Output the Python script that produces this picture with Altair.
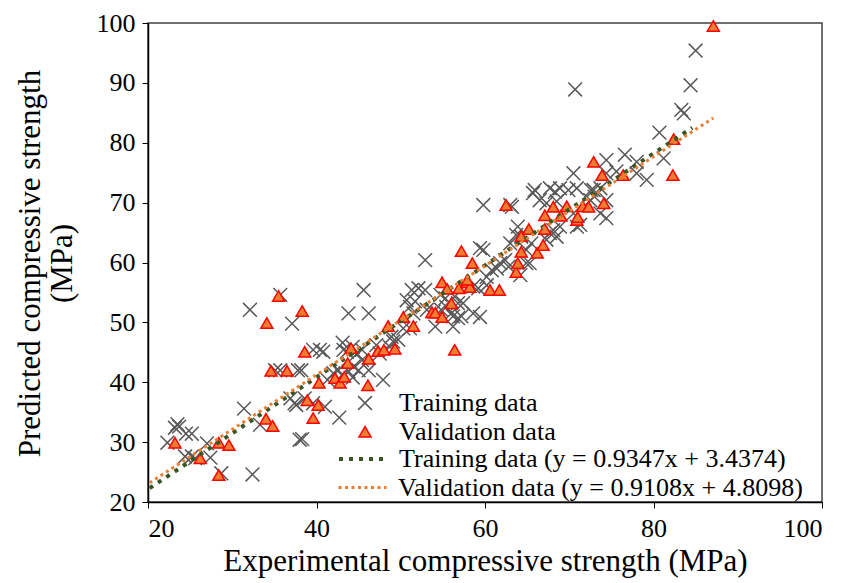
import altair as alt
import pandas as pd

# ---- data ----
train_x = [22.3, 23.2, 23.5, 23.7, 24.5, 25.2, 24.4, 25.2, 25.6, 27.0, 27.4, 28.7, 32.4, 31.4, 33.3, 32.1,
           35.7, 37.1, 35.1, 35.7, 37.8, 38.2, 36.9, 37.6, 38.6, 39.6, 41.0, 37.4, 38.0, 38.3, 39.6, 40.4,
           40.8, 42.7, 41.3, 42.0, 42.6, 43.0, 43.8, 44.3, 45.6, 43.8, 46.2, 43.1, 44.3, 45.4, 43.2, 43.6,
           44.8, 45.4, 44.4, 45.0, 46.2, 47.9, 47.1, 47.5, 48.9, 49.1, 48.7, 49.7, 50.3, 51.1, 50.7, 51.7,
           51.3, 52.1, 52.9, 51.1, 51.5, 52.9, 54.1, 56.2, 56.2, 56.8, 57.2, 58.6, 59.4, 54.7, 55.3, 56.4,
           56.8, 57.4, 58.6, 59.2, 60.2, 60.2, 60.8, 61.4, 61.8, 59.4, 59.8, 59.8, 63.0, 63.2, 65.7, 63.9,
           64.3, 62.4, 62.8, 64.9, 65.3, 64.2, 63.0, 63.7, 64.9, 65.5, 53.1, 53.9, 54.8, 55.4, 56.0, 66.5,
           67.3, 68.5, 65.9, 67.7, 68.3, 68.9, 69.9, 70.9, 72.6, 73.0, 72.5, 74.4, 73.7, 74.4, 70.5, 70.9,
           71.3, 68.1, 68.5, 68.9, 67.3, 67.7, 70.5, 74.4, 75.6, 78.0, 79.2, 74.4, 78.0, 76.6, 81.2, 80.7,
           83.3, 83.6, 84.4, 85.0, 70.7, 72.9, 73.7]
train_y = [29.9, 32.4, 33.0, 32.6, 31.4, 31.4, 27.6, 27.6, 27.3, 29.8, 27.4, 24.8, 24.6, 35.6, 32.9, 52.1,
           54.6, 49.8, 42.0, 42.0, 42.0, 42.0, 37.3, 36.2, 37.3, 36.5, 35.9, 36.5, 30.4, 30.5, 45.4, 45.4,
           45.1, 34.1, 40.4, 41.5, 42.0, 41.2, 41.8, 40.8, 55.4, 51.5, 51.5, 46.6, 45.9, 45.4, 45.4, 45.1,
           44.8, 43.7, 42.6, 42.0, 42.0, 40.4, 46.2, 44.8, 47.6, 46.8, 45.9, 47.1, 49.0, 49.0, 53.7, 53.5,
           55.4, 55.7, 55.4, 52.6, 51.5, 60.4, 49.3, 49.3, 51.0, 50.7, 51.0, 51.5, 50.9, 54.6, 54.0, 54.3,
           53.2, 53.2, 56.0, 55.7, 56.2, 57.6, 58.7, 59.0, 59.9, 62.4, 62.1, 69.6, 69.6, 69.3, 71.6, 66.0,
           64.3, 60.4, 59.3, 59.9, 59.9, 57.9, 63.2, 64.6, 62.1, 63.2, 52.1, 51.8, 52.1, 52.6, 51.5, 70.4,
           69.9, 70.2, 72.1, 72.4, 71.8, 72.4, 72.1, 72.4, 72.1, 71.0, 70.4, 70.4, 68.2, 67.4, 68.2, 66.0,
           66.3, 65.4, 64.3, 66.0, 63.8, 64.9, 74.9, 74.9, 75.2, 74.9, 73.8, 77.1, 76.8, 78.0, 77.4, 81.7,
           85.5, 84.9, 89.6, 95.4, 88.9, 72.1, 72.4]

val_x = [23.2, 26.2, 28.4, 28.4, 29.6, 34.0, 34.8, 34.6, 36.5, 38.9, 40.2, 39.6, 40.3, 35.5, 38.3, 34.1,
         38.6, 42.2, 42.8, 43.3, 43.7, 44.1, 46.1, 46.2, 47.3, 48.0, 49.3, 48.5, 50.3, 51.5, 53.7, 54.1,
         54.9, 56.0, 56.4, 54.9, 55.5, 56.9, 57.9, 58.2, 57.2, 58.5, 57.9, 60.6, 61.7, 63.7, 63.9, 64.3,
         66.2, 66.9, 64.3, 65.2, 67.1, 70.9, 72.9, 73.9, 76.4, 82.3, 82.4, 68.1, 69.7, 71.6, 72.3, 74.1,
         67.1, 69.0, 71.0, 87.1, 62.5]
val_y = [29.9, 27.3, 24.5, 29.9, 29.5, 33.9, 32.7, 41.9, 41.9, 37.0, 36.2, 34.0, 39.9, 54.4, 51.9, 49.9,
         45.1, 40.7, 39.9, 40.9, 43.2, 45.7, 39.5, 43.9, 45.2, 45.4, 45.6, 49.4, 50.9, 49.4, 51.7, 51.6,
         50.9, 53.2, 45.4, 56.7, 55.6, 55.7, 56.7, 55.9, 61.9, 59.9, 57.1, 55.4, 55.4, 58.4, 59.9, 61.8,
         61.6, 62.9, 64.4, 65.6, 65.6, 67.1, 76.8, 74.6, 74.6, 74.6, 80.6, 69.3, 69.4, 69.4, 69.3, 69.9,
         67.9, 67.8, 67.6, 99.5, 69.6]

TRAIN = "Training data"
VAL = "Validation data"
trend_labels = ["Training data (y = 0.9347x + 3.4374)", "Validation data (y = 0.9108x + 4.8098)"]
trend_slope = [0.9347, 0.9108]
trend_icept = [3.4374, 4.8098]
trend_xmin = [20.2, 20.2]
trend_xmax = [84.6, 87.1]
trend_colors = ["#375623", "#ED7D31"]
trend_dash = [[4, 6], [3, 3.5]]
trend_width = [4, 3]
legend_rows_y = [410, 439]

points = pd.DataFrame({
    "x": train_x + val_x,
    "y": train_y + val_y,
    "set": [TRAIN] * len(train_x) + [VAL] * len(val_x),
})

FONT = "Liberation Serif"
X_PATH = "M-1.15,-1.15L1.15,1.15M-1.15,1.15L1.15,-1.15"

xscale = alt.Scale(domain=[20, 100], nice=False, zero=False)
yscale = alt.Scale(domain=[20, 100], nice=False, zero=False)

leg_pts = alt.Legend(title=None, orient="none", legendX=204, legendY=367, padding=0,
                     labelOffset=21, rowPadding=2.7, labelFontSize=26, labelFont=FONT,
                     labelColor="black", labelLimit=700, symbolStrokeWidth=1.5, symbolSize=144)

pts = alt.Chart(points).mark_point(filled=True, opacity=1, size=144, strokeWidth=1.5).encode(
    x=alt.X("x:Q", scale=xscale,
            axis=alt.Axis(values=[20, 40, 60, 80, 100], title="Experimental compressive strength (MPa)",
                          labelPadding=7, titlePadding=5)),
    y=alt.Y("y:Q", scale=yscale,
            axis=alt.Axis(values=list(range(20, 101, 10)),
                          title=["Predicted compressive strength", "(MPa)"],
                          labelPadding=7,
                          titleX=-102, titleY=240, titleAngle=270, titleBaseline="bottom",
                          titleAlign="center", titleLineHeight=32)),
    shape=alt.Shape("set:N", scale=alt.Scale(domain=[TRAIN, VAL], range=[X_PATH, "triangle-up"]), legend=leg_pts),
    fill=alt.Fill("set:N", scale=alt.Scale(domain=[TRAIN, VAL], range=["transparent", "#ED7D31"]), legend=leg_pts),
    stroke=alt.Stroke("set:N", scale=alt.Scale(domain=[TRAIN, VAL], range=["#595959", "#FF0000"]), legend=leg_pts),
)

line_layers = []
for lab, m, b, x0, x1, col, dash, w, ly in zip(trend_labels, trend_slope, trend_icept, trend_xmin,
                                               trend_xmax, trend_colors, trend_dash, trend_width, legend_rows_y):
    df = pd.DataFrame({"x": [x0, x1], "y": [m * x0 + b, m * x1 + b], "trend": [lab, lab]})
    leg = alt.Legend(title=None, orient="none", legendX=189, legendY=ly, padding=0,
                     labelOffset=10, labelFontSize=26, labelFont=FONT, labelColor="black",
                     labelLimit=700, symbolType="stroke", symbolSize=2304,
                     symbolDash=dash, symbolStrokeWidth=w)
    line_layers.append(
        alt.Chart(df).mark_line(strokeCap="butt", strokeDash=dash, strokeWidth=w).encode(
            x=alt.X("x:Q", scale=xscale),
            y=alt.Y("y:Q", scale=yscale),
            color=alt.Color("trend:N", scale=alt.Scale(domain=[lab], range=[col]), legend=leg),
        )
    )

chart = alt.layer(pts, *line_layers).resolve_scale(color="independent").properties(
    width=674, height=479,
    autosize=alt.AutoSizeParams(type="none"),
    padding={"left": 148, "top": 23, "right": 20, "bottom": 81},
    background="white",
).configure_view(
    stroke="#404040", strokeWidth=1.5
).configure_axis(
    grid=False, labelFont=FONT, labelFontSize=26, labelColor="black",
    titleFont=FONT, titleFontSize=31, titleFontWeight="normal", titleColor="black",
    domainColor="black", domainWidth=1.5, tickColor="black", tickSize=6, tickWidth=1,
)

chart.save("out.html", embed_options={"renderer": "svg", "actions": False})
